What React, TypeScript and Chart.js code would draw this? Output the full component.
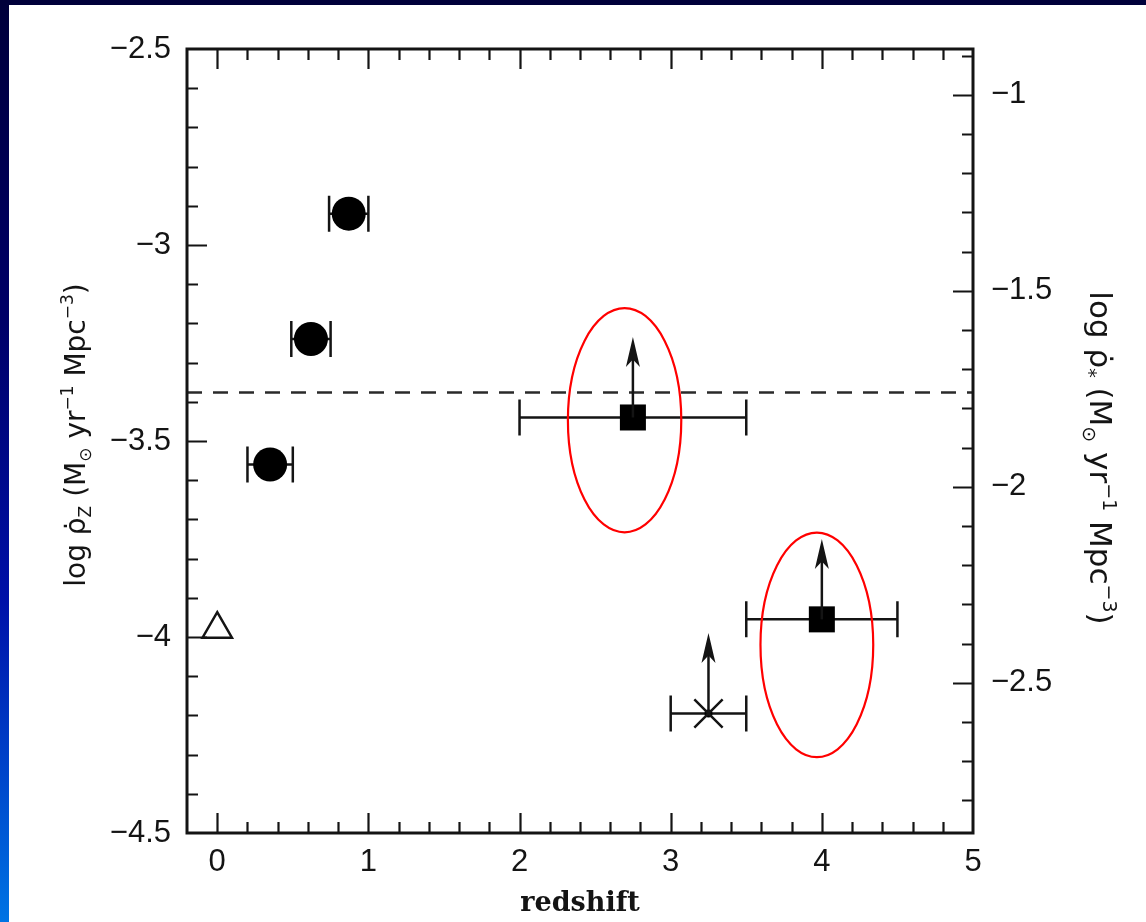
import React, { useEffect, useRef } from "react";
import { Chart, registerables } from "chart.js";

Chart.register(...registerables);

// ---------------- data ----------------
const circleX = [0.35, 0.62, 0.87];
const circleY = [-3.56, -3.24, -2.92];
const circleXErr = [0.15, 0.13, 0.13];

const squareX = [2.75, 4.0];
const squareY = [-3.44, -3.955];
const squareXLow = [2.0, 3.5];
const squareXHigh = [3.5, 4.5];
const squareArrowTip = [-3.235, -3.75];

const crossX = [3.25];
const crossY = [-4.195];
const crossXLow = [3.0];
const crossXHigh = [3.5];
const crossArrowTip = [-3.99];

const triangleX = [0];
const triangleY = [-3.98];

const dashedLineX = [-0.2, 5];
const dashedLineY = [-3.376, -3.376];

const ellipseX = [2.695, 3.967];
const ellipseY = [-3.447, -4.02];
const ellipseRX = [0.375, 0.373];
const ellipseRY = [0.286, 0.2865];

const xTicks = [0, 1, 2, 3, 4, 5];
const yLeftTicks = [-2.5, -3, -3.5, -4, -4.5];
const yRightTicks = [-1, -1.5, -2, -2.5];

const xRange = [-0.2, 5];
const yLeftRange = [-4.5, -2.5];
const yRightRange = [-2.883, -0.883];

// ---------------- helpers ----------------
const fmt = (v: number) => String(v).replace("-", "\u2212");
const INK = "#141414";

type Seg = { t: string; s: number; dy: number };
const titleSegsLeft: Seg[] = [
  { t: "log ", s: 1, dy: 0 },
  { t: "\u03c1\u0307", s: 1, dy: 0 },
  { t: "Z", s: 0.62, dy: 0.22 },
  { t: " (M", s: 1, dy: 0 },
  { t: "\u2299", s: 0.62, dy: 0.22 },
  { t: " yr", s: 1, dy: 0 },
  { t: "\u22121", s: 0.62, dy: -0.42 },
  { t: " Mpc", s: 1, dy: 0 },
  { t: "\u22123", s: 0.62, dy: -0.42 },
  { t: ")", s: 1, dy: 0 },
];
const titleSegsRight: Seg[] = [
  { t: "log ", s: 1, dy: 0 },
  { t: "\u03c1\u0307", s: 1, dy: 0 },
  { t: "*", s: 0.62, dy: 0.22 },
  { t: " (M", s: 1, dy: 0 },
  { t: "\u2299", s: 0.62, dy: 0.22 },
  { t: " yr", s: 1, dy: 0 },
  { t: "\u22121", s: 0.62, dy: -0.42 },
  { t: " Mpc", s: 1, dy: 0 },
  { t: "\u22123", s: 0.62, dy: -0.42 },
  { t: ")", s: 1, dy: 0 },
];

function drawRich(ctx: CanvasRenderingContext2D, segs: Seg[], cx: number, cy: number, rot: number, base: number, family: string) {
  ctx.save();
  ctx.translate(cx, cy);
  ctx.rotate(rot);
  ctx.fillStyle = INK;
  ctx.textAlign = "left";
  ctx.textBaseline = "alphabetic";
  let total = 0;
  const widths = segs.map((s) => {
    ctx.font = `${Math.round(base * s.s)}px ${family}`;
    const w = ctx.measureText(s.t).width;
    total += w;
    return w;
  });
  let x = -total / 2;
  segs.forEach((s, i) => {
    ctx.font = `${Math.round(base * s.s)}px ${family}`;
    ctx.fillText(s.t, x, s.dy * base);
    x += widths[i];
  });
  ctx.restore();
}

function arrow(ctx: CanvasRenderingContext2D, px: number, y0: number, y1: number) {
  const head = 30;
  const hw = 7;
  ctx.beginPath();
  ctx.moveTo(px, y0);
  ctx.lineTo(px, y1 + head * 0.6);
  ctx.stroke();
  ctx.beginPath();
  ctx.moveTo(px, y1);
  ctx.lineTo(px - hw, y1 + head);
  ctx.lineTo(px, y1 + head * 0.75);
  ctx.lineTo(px + hw, y1 + head);
  ctx.closePath();
  ctx.fill();
}

const overlay = {
  id: "overlay",
  beforeDatasetsDraw(chart: any) {
    const { ctx, scales } = chart;
    const x = scales.x;
    const y = scales.y;
    ctx.save();
    ctx.strokeStyle = INK;
    ctx.lineWidth = 2.5;
    const hbar = (xl: number, xh: number, yv: number, cap: number) => {
      const a = x.getPixelForValue(xl);
      const b = x.getPixelForValue(xh);
      const py = y.getPixelForValue(yv);
      ctx.beginPath();
      ctx.moveTo(a, py);
      ctx.lineTo(b, py);
      ctx.moveTo(a, py - cap);
      ctx.lineTo(a, py + cap);
      ctx.moveTo(b, py - cap);
      ctx.lineTo(b, py + cap);
      ctx.stroke();
    };
    circleX.forEach((cx, i) => hbar(cx - circleXErr[i], cx + circleXErr[i], circleY[i], 18));
    squareX.forEach((_, i) => hbar(squareXLow[i], squareXHigh[i], squareY[i], 18));
    crossX.forEach((_, i) => hbar(crossXLow[i], crossXHigh[i], crossY[i], 18));
    ctx.restore();
  },
  afterDatasetsDraw(chart: any) {
    const { ctx, scales, chartArea } = chart;
    const x = scales.x;
    const y = scales.y;
    const y2 = scales.y2;
    ctx.save();
    // arrows
    ctx.strokeStyle = INK;
    ctx.fillStyle = INK;
    ctx.lineWidth = 2.5;
    squareX.forEach((sx, i) => arrow(ctx, x.getPixelForValue(sx), y.getPixelForValue(squareY[i]), y.getPixelForValue(squareArrowTip[i])));
    crossX.forEach((sx, i) => arrow(ctx, x.getPixelForValue(sx), y.getPixelForValue(crossY[i]), y.getPixelForValue(crossArrowTip[i])));

    // frame
    ctx.lineWidth = 3;
    ctx.strokeRect(chartArea.left, chartArea.top, chartArea.right - chartArea.left, chartArea.bottom - chartArea.top);

    // ticks
    ctx.lineWidth = 2.2;
    ctx.beginPath();
    const eps = 1e-6;
    for (let k = 1; k < 26; k++) {
      const v = xRange[0] + k * 0.2;
      const major = Math.abs(v - Math.round(v)) < eps;
      const len = major ? 20 : 11;
      const px = Math.round(x.getPixelForValue(v)) + 0.5;
      ctx.moveTo(px, chartArea.bottom);
      ctx.lineTo(px, chartArea.bottom - len);
      ctx.moveTo(px, chartArea.top);
      ctx.lineTo(px, chartArea.top + len);
    }
    for (let k = 1; k < 20; k++) {
      const v = yLeftRange[0] + k * 0.1;
      const major = Math.abs(v * 2 - Math.round(v * 2)) < eps;
      const len = major ? 20 : 11;
      const py = Math.round(y.getPixelForValue(v)) + 0.5;
      ctx.moveTo(chartArea.left, py);
      ctx.lineTo(chartArea.left + len, py);
    }
    for (let k = -28; k <= -9; k++) {
      const v = k / 10;
      const major = k % 5 === 0;
      const len = major ? 20 : 11;
      const py = Math.round(y2.getPixelForValue(v)) + 0.5;
      ctx.moveTo(chartArea.right, py);
      ctx.lineTo(chartArea.right - len, py);
    }
    ctx.stroke();

    // ellipses
    ctx.strokeStyle = "#ff0000";
    ctx.lineWidth = 2.2;
    ellipseX.forEach((ex, i) => {
      const cx = x.getPixelForValue(ex);
      const cy = y.getPixelForValue(ellipseY[i]);
      const rx = Math.abs(x.getPixelForValue(ex + ellipseRX[i]) - cx);
      const ry = Math.abs(y.getPixelForValue(ellipseY[i] + ellipseRY[i]) - cy);
      ctx.beginPath();
      ctx.ellipse(cx, cy, rx, ry, 0, 0, Math.PI * 2);
      ctx.stroke();
    });
    ctx.restore();
  },
  afterDraw(chart: any) {
    const { ctx, chartArea } = chart;
    ctx.save();
    ctx.fillStyle = INK;
    ctx.font = 'bold 27px "DejaVu Serif"';
    ctx.textAlign = "center";
    ctx.textBaseline = "alphabetic";
    ctx.fillText("redshift", (chartArea.left + chartArea.right) / 2, chartArea.bottom + 78);
    ctx.restore();
    const mid = (chartArea.top + chartArea.bottom) / 2;
    drawRich(ctx, titleSegsLeft, 85, mid - 6, -Math.PI / 2, 28, '"DejaVu Sans"');
    drawRich(ctx, titleSegsRight, chartArea.right + 117, mid + 17, Math.PI / 2, 31, '"DejaVu Sans"');
  },
};

const tickFont = { family: '"Liberation Sans", Arial, sans-serif', size: 31 };

export default function App() {
  const ref = useRef<HTMLCanvasElement | null>(null);
  useEffect(() => {
    if (!ref.current) return;
    const pts = (xs: number[], ys: number[]) => xs.map((v, i) => ({ x: v, y: ys[i] }));
    const chart = new Chart(ref.current, {
      type: "scatter",
      data: {
        datasets: [
          {
            type: "line",
            data: pts(dashedLineX, dashedLineY),
            borderColor: "#2a2a2a",
            borderWidth: 2.5,
            borderDash: [15, 11],
            pointRadius: 0,
            fill: false,
          } as any,
          {
            data: pts(circleX, circleY),
            pointStyle: "circle",
            pointRadius: 17,
            backgroundColor: "#000",
            borderColor: "#000",
            borderWidth: 0,
          },
          {
            data: pts(squareX, squareY),
            pointStyle: "rect",
            pointRadius: 18.4,
            backgroundColor: "#000",
            borderColor: "#000",
            borderWidth: 0,
          },
          {
            data: pts(triangleX, triangleY),
            pointStyle: "triangle",
            pointRadius: 17,
            backgroundColor: "#fff",
            borderColor: INK,
            borderWidth: 2.5,
          },
          {
            data: pts(crossX, crossY),
            pointStyle: "crossRot",
            pointRadius: 20,
            backgroundColor: INK,
            borderColor: INK,
            borderWidth: 2.5,
          },
          {
            data: pts(crossX, crossY),
            pointStyle: "circle",
            pointRadius: 4,
            backgroundColor: "#000",
            borderWidth: 0,
          },
        ],
      },
      options: {
        responsive: false,
        animation: false,
        layout: { padding: { top: 49, left: 0, right: 0, bottom: 0 } },
        plugins: { legend: { display: false }, tooltip: { enabled: false } },
        scales: {
          x: {
            type: "linear",
            position: "bottom",
            min: xRange[0],
            max: xRange[1],
            grid: { display: false, drawTicks: false },
            border: { display: false },
            afterBuildTicks: (s: any) => {
              s.ticks = xTicks.map((v) => ({ value: v }));
            },
            afterFit: (s: any) => {
              s.height = 89;
            },
            ticks: { font: tickFont, color: INK, padding: 11, maxRotation: 0, callback: (v: any) => fmt(v) },
          },
          y: {
            type: "linear",
            position: "left",
            min: yLeftRange[0],
            max: yLeftRange[1],
            grid: { display: false, drawTicks: false },
            border: { display: false },
            afterBuildTicks: (s: any) => {
              s.ticks = yLeftTicks.map((v) => ({ value: v }));
            },
            afterFit: (s: any) => {
              s.width = 187;
            },
            ticks: { font: tickFont, color: INK, padding: 16, callback: (v: any) => fmt(v) },
          },
          y2: {
            type: "linear",
            position: "right",
            min: yRightRange[0],
            max: yRightRange[1],
            grid: { display: false, drawTicks: false },
            border: { display: false },
            afterBuildTicks: (s: any) => {
              s.ticks = yRightTicks.map((v) => ({ value: v }));
            },
            afterFit: (s: any) => {
              s.width = 173;
            },
            ticks: { font: tickFont, color: INK, padding: 18, callback: (v: any) => fmt(v) },
          },
        },
      },
      plugins: [overlay],
    });
    return () => chart.destroy();
  }, []);

  return (
    <div
      style={{
        position: "fixed",
        left: 0,
        top: 0,
        width: 1146,
        height: 922,
        background: "linear-gradient(to bottom, #00003a 0%, #000068 35%, #0010a8 65%, #0040c8 82%, #0074e4 100%)",
        overflow: "hidden",
      }}
    >
      <div style={{ position: "absolute", left: 9, top: 5, right: 0, bottom: 0, background: "#fff" }} />
      <canvas ref={ref} width={1146} height={922} style={{ position: "absolute", left: 0, top: 0 }} />
    </div>
  );
}
